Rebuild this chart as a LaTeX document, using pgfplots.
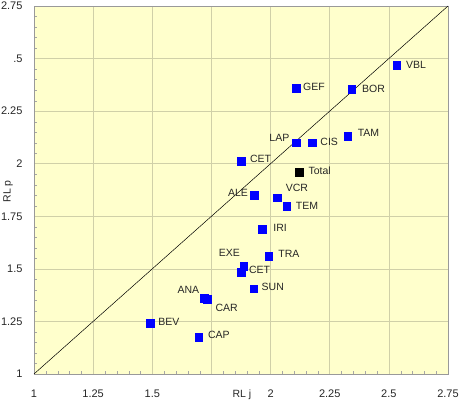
\documentclass[border=0pt]{standalone}
\usepackage{pgfplots}
\usepackage{pgfplotstable}
\pgfplotsset{compat=1.18}
\usepackage{fontspec}
\setmainfont{Liberation Sans}

\definecolor{bgyellow}{RGB}{255,255,204}
\definecolor{gridcol}{RGB}{208,208,168}
\definecolor{ptblue}{RGB}{0,0,255}

% x y label and label offset (dx, dy in pt)
\pgfplotstableread{
x     y     lab  dx    dy
2.533 2.468 VBL  19.3  0.7
2.343 2.354 BOR  21.8  0.7
2.110 2.359 GEF  17.3  1.7
2.326 2.130 TAM  20.8  3.7
2.110 2.100 LAP  -17.2 5.0
2.176 2.100 CIS  17.0  1.0
1.875 2.013 CET  19.5  2.3
1.931 1.852 ALE  -16.3 2.0
2.027 1.838 VCR  20.0  10.3
2.068 1.797 TEM  20.3  0.7
1.964 1.690 IRI  18.0  1.3
1.992 1.560 TRA  20.3  2.3
1.886 1.514 EXE  -14.2 13.3
1.875 1.484 CET  18.5  2.3
1.929 1.406 SUN  19.0  1.4
1.721 1.362 ANA  -16.2 8.0
1.733 1.354 CAR  19.2  -8.0
1.490 1.241 BEV  19.0  1.6
1.696 1.175 CAP  20.3  2.3
}\pts

\pgfplotstableread{
x     y     lab   dx   dy
2.120 1.959 Total 20.7 1.7
}\total

\begin{document}
\begin{tikzpicture}
\begin{axis}[
    scale only axis,
    width=414pt, height=368pt,
    xmin=1, xmax=2.75, ymin=1, ymax=2.75,
    axis background/.style={fill=bgyellow},
    xtick={1,1.25,1.5,1.75,2,2.25,2.5,2.75},
    xticklabels={1,1.25,1.5,,2,2.25,2.5,2.75},
    ytick={1,1.25,1.5,1.75,2,2.25,2.5,2.75},
    yticklabels={1,1.25,1.5,1.75,2,2.25,.5,2.75},
    minor tick num=4,
    tick pos=left,
    tick align=inside,
    major tick length=0pt,
    minor tick length=3pt,
    minor tick style={gray!70},
    grid=major,
    grid style={gridcol, line width=0.5pt},
    axis line style={gray!80},
    /pgf/number format/assume math mode=true,
    ticklabel style={font=\fontsize{11}{12}\selectfont, text=black!85},
    xticklabel style={yshift=-12pt},
    yticklabel style={xshift=-8pt},
    clip=false,
]
\addplot[black, line width=0.5pt] coordinates {(1,1) (2.75,2.75)};

\addplot[only marks, mark=square*, mark size=3.9pt,
    mark options={fill=ptblue, draw=ptblue},
    point meta=explicit symbolic,
    visualization depends on={\thisrow{dx}\as\dx},
    visualization depends on={\thisrow{dy}\as\dy},
    nodes near coords,
    nodes near coords style={anchor=center, xshift=\dx pt, yshift=\dy pt,
        font=\fontsize{10.5}{12}\selectfont, text=black!85, inner sep=0pt},
] table[x=x, y=y, meta=lab] {\pts};

\addplot[only marks, mark=square*, mark size=3.9pt,
    mark options={fill=black, draw=black},
    point meta=explicit symbolic,
    visualization depends on={\thisrow{dx}\as\dx},
    visualization depends on={\thisrow{dy}\as\dy},
    nodes near coords,
    nodes near coords style={anchor=center, xshift=\dx pt, yshift=\dy pt,
        font=\fontsize{10.5}{12}\selectfont, text=black!85, inner sep=0pt},
] table[x=x, y=y, meta=lab] {\total};

\node[font=\fontsize{10.5}{12}\selectfont, text=black!85]
    at ([yshift=-20.5pt]axis cs:1.879,1) {RL j};
\node[font=\fontsize{10.5}{12}\selectfont, text=black!85, rotate=90, inner sep=1pt]
    at ([xshift=-26pt]axis cs:1,1.869) {RL p};

\coordinate (ll) at (rel axis cs:0,0);
\coordinate (ur) at (rel axis cs:1,1);
\end{axis}
\pgfresetboundingbox
\path (ll) +(-34pt,-26pt) (ur) +(13pt,6pt);
\end{tikzpicture}
\end{document}
